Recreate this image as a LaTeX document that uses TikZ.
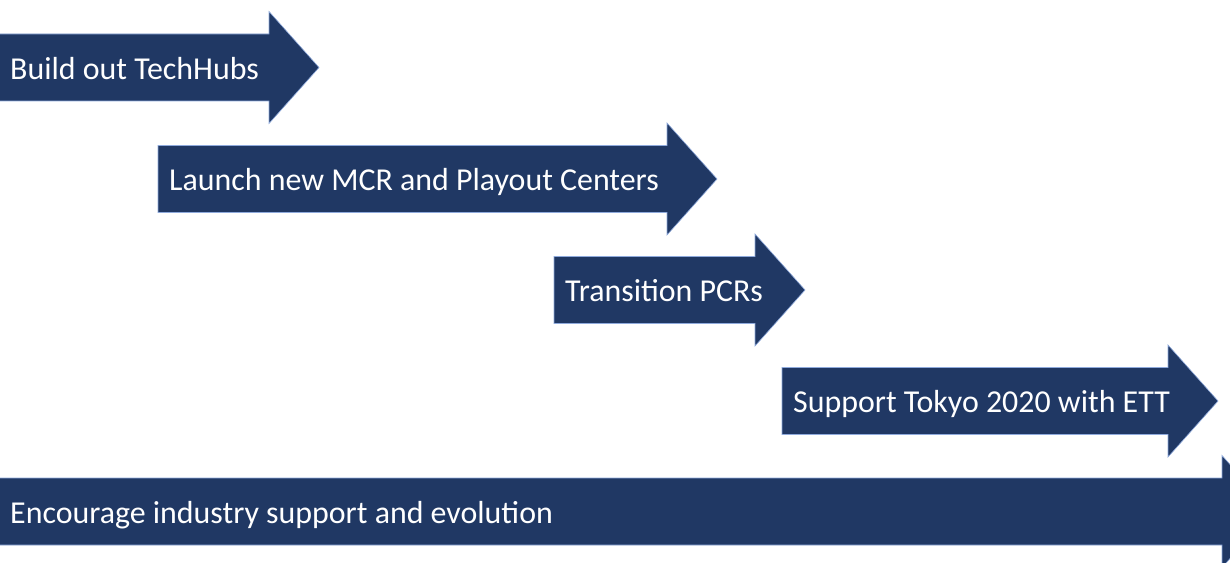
\documentclass[tikz,border=0pt]{standalone}
\usepackage{fontspec}
\setmainfont{Carlito}
\definecolor{navy}{RGB}{32,56,100}
\definecolor{edgeblue}{RGB}{143,170,220}
\tikzset{
  arrowshape/.style={fill=navy,draw=edgeblue,line width=0.6pt,line join=miter},
  lbl/.style={text=white,font=\fontsize{31.9}{37}\selectfont,anchor=base west,inner sep=0pt}
}
% #1 left x, #2 head base x, #3 centre y, #4 name, #5 text
\newcommand\bigarrow[5]{%
  \path[arrowshape] ({#1},{#3-33.5}) -- ({#2},{#3-33.5}) -- ({#2},{#3-56}) -- ({#2+50},{#3})
    -- ({#2},{#3+56}) -- ({#2},{#3+33.5}) -- ({#1},{#3+33.5}) -- cycle;
  \node[lbl] (#4) at ({#1+11},{#3-12}) {#5};
}
\begin{document}
\begin{tikzpicture}[x=1pt,y=1pt]
\useasboundingbox (0,0) rectangle (1230,562);
\clip (0,0) rectangle (1230,562);
\fill[white] (0,0) rectangle (1230,562);
\bigarrow{-1}{269}{494.5}{hubs}{Build out TechHubs}
\bigarrow{158}{667}{383}{mcr}{Launch new MCR and Playout Centers}
\bigarrow{554}{755}{272}{pcr}{Transition PCRs}
\bigarrow{782}{1168}{161}{tokyo}{Support Tokyo 2020 with ETT}
\bigarrow{-1}{1222}{50.5}{industry}{Encourage industry support and evolution}
\end{tikzpicture}
\end{document}
